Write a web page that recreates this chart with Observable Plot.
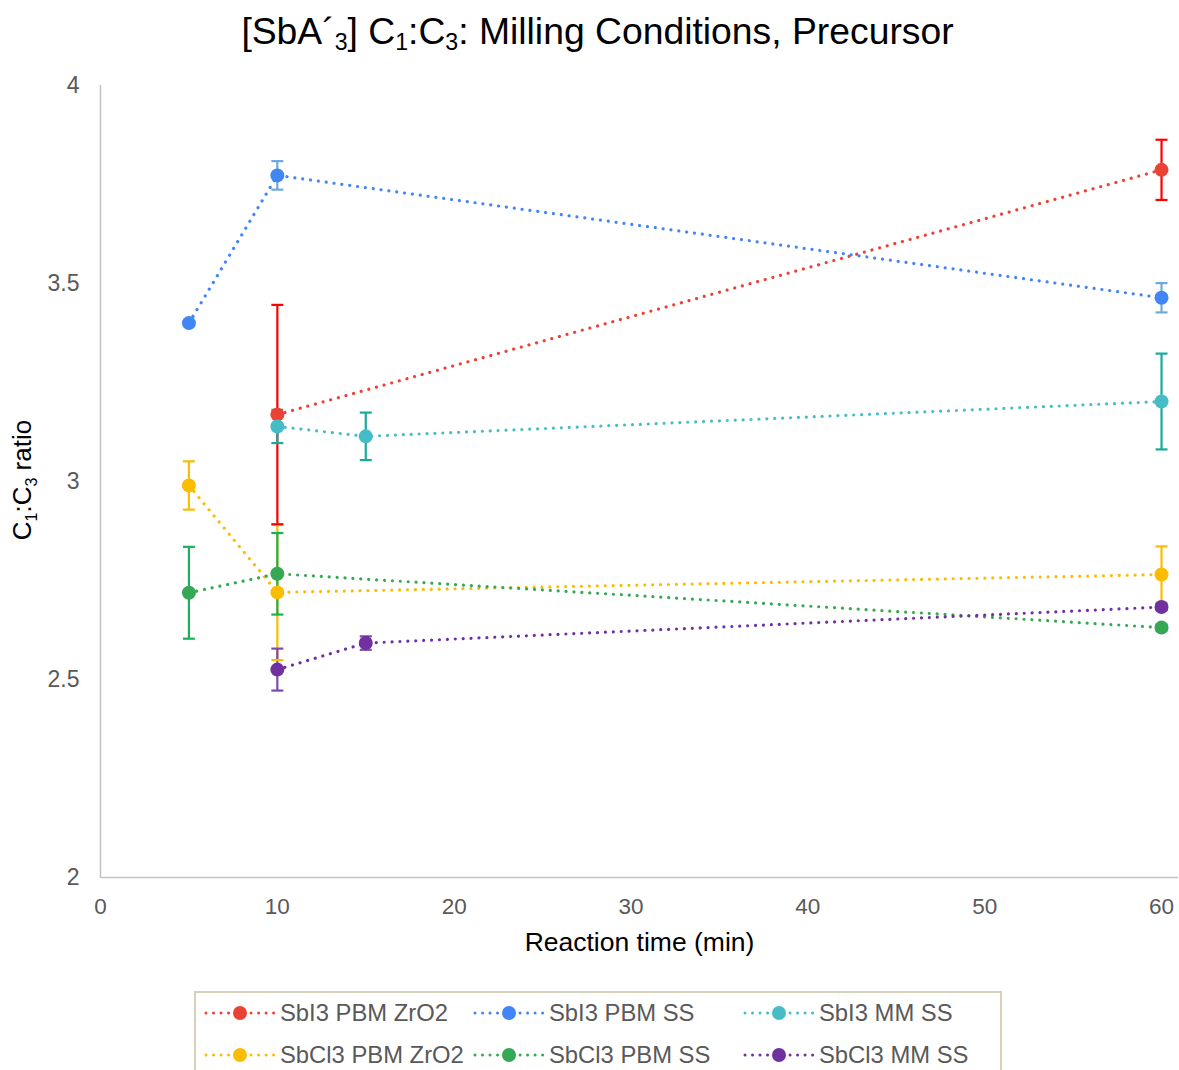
<!DOCTYPE html>
<html>
<head>
<meta charset="utf-8">
<script src="https://cdn.jsdelivr.net/npm/d3@7"></script>
<script src="https://cdn.jsdelivr.net/npm/@observablehq/plot@0.6"></script>
<style>
  html, body { margin: 0; padding: 0; background: #fff; }
  body { width: 1179px; height: 1070px; overflow: hidden; position: relative; font-family: "Liberation Sans", Arial, Helvetica, sans-serif; }
  #title { position: absolute; left: 0; top: 0; width: 1195px; height: 62px; line-height: 62px; text-align: center; font-size: 37.3px; color: #000; }
  #title sub { font-size: 0.62em; vertical-align: -0.28em; line-height: 0; }
  #chart { position: absolute; left: 0; top: 62px; }
  #legend { position: absolute; left: 194px; top: 991px; width: 808px; height: 100px; border: 2px solid #d8d1ba; box-sizing: border-box; }
  .item { position: absolute; height: 30px; display: flex; align-items: center; font-size: 23.8px; color: #595959; white-space: nowrap; }
  .item svg { margin-right: 3px; }
</style>
</head>
<body>
<div id="title">[SbA´<sub>3</sub>] C<sub>1</sub>:C<sub>3</sub>: Milling Conditions, Precursor</div>
<div id="chart"></div>
<div id="legend"></div>
<script>
// ---- Data ----
const seriesNames = ["SbI3 PBM ZrO2", "SbI3 PBM SS", "SbI3 MM SS", "SbCl3 PBM ZrO2", "SbCl3 PBM SS", "SbCl3 MM SS"];

const timeSbI3PbmZrO2  = [10, 60];
const ratioSbI3PbmZrO2 = [3.169, 3.787];
const errSbI3PbmZrO2   = [0.277, 0.076];

const timeSbI3PbmSS  = [5, 10, 60];
const ratioSbI3PbmSS = [3.400, 3.773, 3.464];
const errSbI3PbmSS   = [0, 0.036, 0.037];

const timeSbI3MmSS  = [10, 15, 60];
const ratioSbI3MmSS = [3.139, 3.114, 3.202];
const errSbI3MmSS   = [0.042, 0.060, 0.121];

const timeSbCl3PbmZrO2  = [5, 10, 60];
const ratioSbCl3PbmZrO2 = [2.990, 2.720, 2.765];
const errSbCl3PbmZrO2   = [0.061, 0.171, 0.071];

const timeSbCl3PbmSS  = [5, 10, 60];
const ratioSbCl3PbmSS = [2.719, 2.767, 2.631];
const errSbCl3PbmSS   = [0.116, 0.103, 0.008];

const timeSbCl3MmSS  = [10, 15, 60];
const ratioSbCl3MmSS = [2.525, 2.592, 2.683];
const errSbCl3MmSS   = [0.053, 0.017, 0.008];

const xTicks = [0, 10, 20, 30, 40, 50, 60];
const yTicks = [2, 2.5, 3, 3.5, 4];

// ---- Styles ----
const lineColors = ["#ea4335", "#4285f4", "#46bdc6", "#fbbc04", "#34a853", "#7030a0"];
const errColors  = ["#ff0000", "#6fa8dc", "#1aaa9b", "#fbbc04", "#19b15a", "#7e4ab0"];

const seriesData = [
  [timeSbI3PbmZrO2, ratioSbI3PbmZrO2, errSbI3PbmZrO2],
  [timeSbI3PbmSS, ratioSbI3PbmSS, errSbI3PbmSS],
  [timeSbI3MmSS, ratioSbI3MmSS, errSbI3MmSS],
  [timeSbCl3PbmZrO2, ratioSbCl3PbmZrO2, errSbCl3PbmZrO2],
  [timeSbCl3PbmSS, ratioSbCl3PbmSS, errSbCl3PbmSS],
  [timeSbCl3MmSS, ratioSbCl3MmSS, errSbCl3MmSS]
];

const rows = [];
seriesData.forEach(([t, r, e], i) => {
  t.forEach((x, j) => rows.push({
    series: seriesNames[i], order: i, x, y: r[j], lo: r[j] - e[j], hi: r[j] + e[j], err: e[j],
    color: lineColors[i], ecolor: errColors[i]
  }));
});
const errRows = rows.filter(d => d.err > 0);

const capSymbol = { draw(ctx) { ctx.moveTo(-6, 0); ctx.lineTo(6, 0); } };

const plot = Plot.plot({
  width: 1179,
  height: 913,
  marginTop: 23,
  marginBottom: 98,
  marginLeft: 100,
  marginRight: 1,
  style: { fontFamily: '"Liberation Sans", Arial, Helvetica, sans-serif', background: "#fff", overflow: "visible" },
  x: { domain: [0, 60.96], ticks: xTicks },
  y: { domain: [2, 4], ticks: yTicks },
  color: { type: "identity" },
  marks: [
    Plot.axisX({ ticks: xTicks, tickSize: 0, tickPadding: 21, fontSize: 22.5, fill: "#595959", label: null }),
    Plot.axisY({ ticks: yTicks, tickSize: 0, tickPadding: 21, fontSize: 23, fill: "#595959", label: null, tickFormat: d => String(d) }),
    Plot.ruleX([0], { stroke: "#c3c3c3", strokeWidth: 1.5 }),
    Plot.ruleY([2], { stroke: "#c3c3c3", strokeWidth: 1.5 }),
    Plot.line(rows, { x: "x", y: "y", z: "series", stroke: "color", strokeWidth: 3.2, strokeDasharray: "0.01 7.9", strokeLinecap: "round" }),
    Plot.ruleX(errRows, { x: "x", y1: "lo", y2: "hi", stroke: "ecolor", strokeWidth: 2.2 }),
    Plot.dot(errRows, { x: "x", y: "hi", symbol: capSymbol, stroke: "ecolor", strokeWidth: 2.2, fill: "none" }),
    Plot.dot(errRows, { x: "x", y: "lo", symbol: capSymbol, stroke: "ecolor", strokeWidth: 2.2, fill: "none" }),
    Plot.dot(rows, { x: "x", y: "y", r: 7, fill: "color", stroke: "none" }),
    Plot.text(["Reaction time (min)"], { frameAnchor: "bottom", dy: 65, fontSize: 26.5, fill: "#000", lineAnchor: "middle" })
  ]
});
document.getElementById("chart").appendChild(plot);

// Y-axis label with subscripts
const svg = d3.select(plot);
const yl = svg.append("text")
  .attr("transform", "translate(31,418) rotate(-90)")
  .attr("text-anchor", "middle")
  .attr("font-size", 26)
  .attr("fill", "#000")
  .attr("font-family", '"Liberation Sans", Arial, Helvetica, sans-serif');
yl.append("tspan").text("C");
yl.append("tspan").attr("font-size", 16).attr("dy", 6).text("1");
yl.append("tspan").attr("dy", -6).text(":C");
yl.append("tspan").attr("font-size", 16).attr("dy", 6).text("3");
yl.append("tspan").attr("dy", -6).text(" ratio");

// Legend
const legend = document.getElementById("legend");
const colX = [7, 276, 546];
const rowY = [5, 47];
seriesNames.forEach((name, i) => {
  const item = document.createElement("div");
  item.className = "item";
  item.style.left = colX[i % 3] + "px";
  item.style.top = rowY[Math.floor(i / 3)] + "px";
  const s = d3.create("svg").attr("width", 74).attr("height", 20);
  s.append("line").attr("x1", 3).attr("x2", 71).attr("y1", 10).attr("y2", 10)
    .attr("stroke", lineColors[i]).attr("stroke-width", 3)
    .attr("stroke-dasharray", "0.01 7.5").attr("stroke-linecap", "round");
  s.append("circle").attr("cx", 37).attr("cy", 10).attr("r", 7).attr("fill", lineColors[i]);
  item.appendChild(s.node());
  const span = document.createElement("span");
  span.textContent = name;
  item.appendChild(span);
  legend.appendChild(item);
});
</script>
</body>
</html>
